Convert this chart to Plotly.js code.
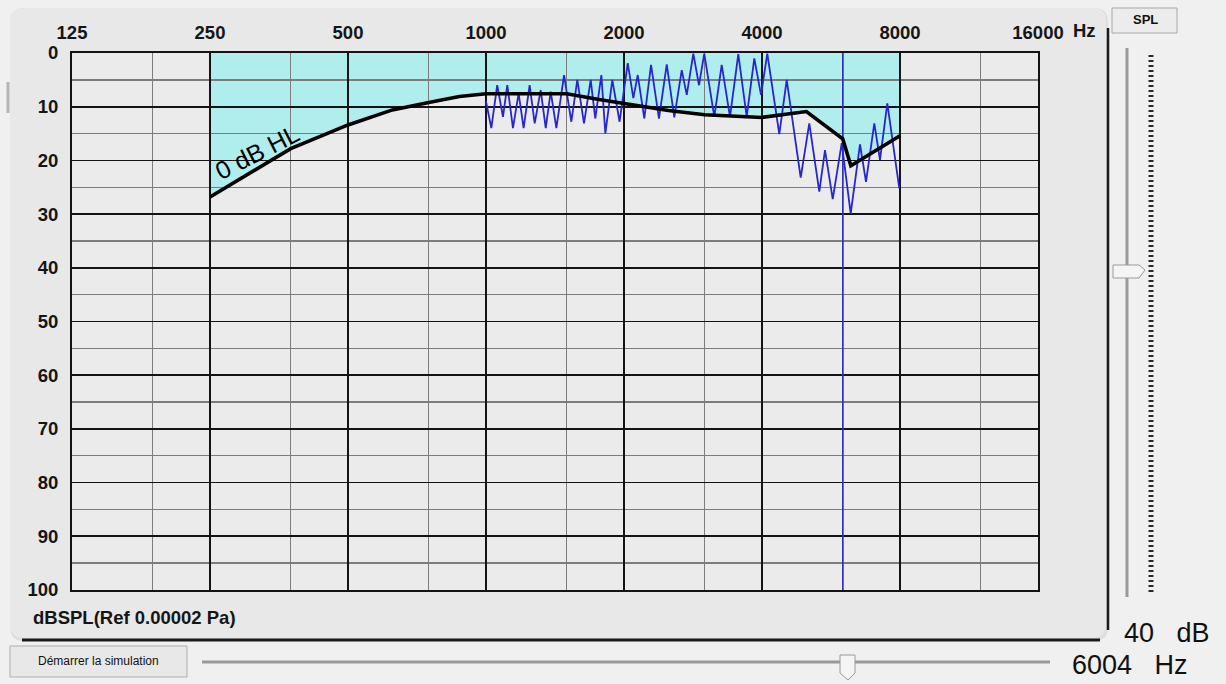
<!DOCTYPE html>
<html><head><meta charset="utf-8">
<script src="https://cdn.plot.ly/plotly-3.0.1.min.js"></script>
<style>html,body{margin:0;padding:0;background:#f0f0f0;overflow:hidden}#chart{width:1226px;height:684px}</style>
</head><body><div id="chart"></div>
<script>
// ---- data ----
const freqTicks = [125, 250, 500, 1000, 2000, 4000, 8000, 16000];
const freqTickText = ['125', '250', '500', '1000', '2000', '4000', '8000', '16000'];
const freqMinor = [187.5, 375, 750, 1500, 3000, 6000, 12000];
const dbTicks = [0, 10, 20, 30, 40, 50, 60, 70, 80, 90, 100];
const dbMinor = [5, 15, 25, 35, 45, 55, 65, 75, 85, 95];

// 0 dB HL threshold curve (dB SPL)
const hlFreq = [250, 300, 375, 500, 625, 750, 875, 1000, 1500, 1750, 2000, 2500, 3000, 4000, 5000, 6000, 6250, 8000];
const hlDb = [26.8, 22.8, 17.8, 13.4, 10.6, 9.2, 8.1, 7.6, 7.6, 8.6, 9.4, 10.7, 11.5, 12, 10.9, 16, 21, 15.4];

// upper edge of the shaded zone
const zoneFreq = [250, 8000];
const zoneDb = [0, 0];

// blue zigzag signal
const zzFreq = [1000,1027,1058,1089,1113,1145,1178,1208,1245,1277,1316,1350,1384,1424,1480,1535,1582,1636,1692,1731,
  1785,1821,1886,1956,2038,2096,2143,2215,2291,2384,2479,2575,2673,2741,2833,2915,2993,3148,3267,3406,
  3551,3704,3848,3980,4108,4363,4529,4858,5072,5334,5489,5706,5970,6245,6544,6744,7031,7235,7506,7971];
const zzDb = [9,14,6,11.9,6,14,7.5,14,6,13.1,6.9,14,7.2,14,4.1,12.8,5,13.1,5,12.2,
  4.1,15,5,12.8,1.9,8.4,4.1,12.2,2.2,12.2,2.1,12,3.2,7.8,0.1,6,0.1,11.9,2.2,11.9,
  0.2,11.9,1,7.8,0.1,15.1,5,23.2,13.1,25.8,18.1,27.2,16.8,29.9,17,24,13.1,19.9,9.4,25.2];

// cursor
const cursorFreq = 6004;
const cursorLevel = 40;
const cursorDbSpan = [0, 100];

// ---- layout helpers (pixel -> paper) ----
const L = 72, R = 1038, T = 53, B = 590;
const px = x => (x - L) / (R - L);
const py = y => (B - y) / (B - T);

function rrect(x0, y0, x1, y1, r) {
  return 'M' + px(x0 + r) + ',' + py(y0) +
    ' L' + px(x1 - r) + ',' + py(y0) +
    ' Q' + px(x1) + ',' + py(y0) + ' ' + px(x1) + ',' + py(y0 + r) +
    ' L' + px(x1) + ',' + py(y1 - r) +
    ' Q' + px(x1) + ',' + py(y1) + ' ' + px(x1 - r) + ',' + py(y1) +
    ' L' + px(x0 + r) + ',' + py(y1) +
    ' Q' + px(x0) + ',' + py(y1) + ' ' + px(x0) + ',' + py(y1 - r) +
    ' L' + px(x0) + ',' + py(y0 + r) +
    ' Q' + px(x0) + ',' + py(y0) + ' ' + px(x0 + r) + ',' + py(y0) + ' Z';
}
function poly(pts) {
  return 'M' + pts.map(p => px(p[0]) + ',' + py(p[1])).join(' L') + ' Z';
}
function pline(x0, y0, x1, y1, color, w, dash) {
  return {type: 'line', xref: 'paper', yref: 'paper', x0: px(x0), y0: py(y0), x1: px(x1), y1: py(y1),
    line: {color: color, width: w, dash: dash || 'solid'}, layer: 'below'};
}

const traces = [
  {x: zoneFreq, y: zoneDb, xaxis: 'x', yaxis: 'y', mode: 'lines', line: {width: 0, color: 'rgba(0,0,0,0)'}, hoverinfo: 'skip'},
  {x: hlFreq, y: hlDb, xaxis: 'x', yaxis: 'y', mode: 'lines', line: {width: 0, color: 'rgba(0,0,0,0)'},
   fill: 'tonexty', fillcolor: '#b0eeee', hoverinfo: 'skip'},
  {x: [cursorFreq, cursorFreq], y: cursorDbSpan, xaxis: 'x2', yaxis: 'y2', mode: 'lines', line: {color: '#3030c0', width: 1.7}},
  {x: zzFreq, y: zzDb, xaxis: 'x2', yaxis: 'y2', mode: 'lines', line: {color: '#2626d0', width: 1.8}},
  {x: hlFreq, y: hlDb, xaxis: 'x2', yaxis: 'y2', mode: 'lines', line: {color: '#000', width: 3.6}}
];

const xr = [Math.log10(freqTicks[0]), Math.log10(freqTicks[freqTicks.length - 1])];
const tickFont = {family: 'Liberation Sans, Arial, sans-serif', size: 18.5, color: '#151515', weight: 'bold'};

const shapes = [
  // panel
  {type: 'path', xref: 'paper', yref: 'paper', path: rrect(10, 8, 1108, 641, 14), fillcolor: '#dedede', line: {width: 0}, layer: 'below'},
  {type: 'path', xref: 'paper', yref: 'paper', path: rrect(10, 8, 1106, 638, 14), fillcolor: '#e8e8e8', line: {width: 0}, layer: 'below'},
  pline(22, 640, 1100, 640, '#1a1a1a', 3),
  pline(1108, 28, 1108, 630, '#1a1a1a', 2.5),
  pline(8, 82, 8, 113, '#b5b5b5', 3),
  // plot background
  {type: 'rect', xref: 'paper', yref: 'paper', x0: 0, y0: 0, x1: 1, y1: 1, fillcolor: '#ebebeb', line: {width: 0}, layer: 'below'},
  // SPL button
  {type: 'rect', xref: 'paper', yref: 'paper', x0: px(1112), y0: py(8), x1: px(1177), y1: py(33), fillcolor: '#ececec', line: {color: '#a8a8a8', width: 1}, layer: 'below'},
  // vertical slider
  pline(1127, 48, 1127, 597, '#9a9a9a', 3),
  pline(1151, 55, 1151, 593, '#2a2a2a', 5, '2px,3px'),
  {type: 'path', xref: 'paper', yref: 'paper', path: poly([[1113, 265], [1139, 265], [1145, 270], [1139, 278], [1113, 278]]), fillcolor: '#f5f5f5', line: {color: '#9a9a9a', width: 1}, layer: 'below'},
  // start button
  {type: 'rect', xref: 'paper', yref: 'paper', x0: px(10), y0: py(646), x1: px(187), y1: py(677), fillcolor: '#e8e8e8', line: {color: '#adadad', width: 1}, layer: 'below'},
  // horizontal slider
  pline(202, 662, 1050, 662, '#9a9a9a', 3),
  {type: 'path', xref: 'paper', yref: 'paper', path: poly([[840, 655], [855, 655], [855, 673], [848, 680], [840, 673]]), fillcolor: '#f5f5f5', line: {color: '#9a9a9a', width: 1}, layer: 'below'}
];

const annotations = [
  {xref: 'paper', yref: 'paper', x: px(1071), y: py(31), xanchor: 'left', yanchor: 'middle', text: 'Hz', showarrow: false, font: tickFont},
  {xref: 'paper', yref: 'paper', x: px(31), y: py(617), xanchor: 'left', yanchor: 'middle', text: 'dBSPL(Ref 0.00002 Pa)', showarrow: false, font: tickFont},
  {xref: 'paper', yref: 'paper', x: px(257), y: py(152), xanchor: 'center', yanchor: 'middle', text: '0 dB HL', textangle: -27, showarrow: false,
   font: {family: 'Liberation Sans, Arial, sans-serif', size: 25, color: '#000'}},
  {xref: 'paper', yref: 'paper', x: px(1145), y: py(20), xanchor: 'center', yanchor: 'middle', text: 'SPL', showarrow: false,
   font: {family: 'Liberation Sans, Arial, sans-serif', size: 13, color: '#111', weight: 'bold'}},
  {xref: 'paper', yref: 'paper', x: px(98), y: py(661), xanchor: 'center', yanchor: 'middle', text: 'Démarrer la simulation', showarrow: false,
   font: {family: 'Liberation Sans, Arial, sans-serif', size: 12, color: '#111'}},
  {xref: 'paper', yref: 'paper', x: px(1122), y: py(633), xanchor: 'left', yanchor: 'middle', text: cursorLevel + '&nbsp;&nbsp;&nbsp;dB', showarrow: false,
   font: {family: 'Liberation Sans, Arial, sans-serif', size: 27, color: '#111'}},
  {xref: 'paper', yref: 'paper', x: px(1070), y: py(665), xanchor: 'left', yanchor: 'middle', text: cursorFreq + '&nbsp;&nbsp;&nbsp;Hz', showarrow: false,
   font: {family: 'Liberation Sans, Arial, sans-serif', size: 27, color: '#111'}}
];

const layout = {
  width: 1226, height: 684,
  margin: {l: L, r: 1226 - R, t: T, b: 684 - B, pad: 0},
  paper_bgcolor: '#f0f0f0',
  plot_bgcolor: 'rgba(0,0,0,0)',
  showlegend: false,
  xaxis: {type: 'log', range: xr, domain: [0, 1], anchor: 'y', showgrid: false, zeroline: false, showticklabels: false, ticks: '', showline: false},
  yaxis: {range: [100, 0], domain: [0, 1], anchor: 'x', showgrid: false, zeroline: false, showticklabels: false, ticks: '', showline: false},
  xaxis2: {type: 'log', range: xr, domain: [0, 1], anchor: 'y2', side: 'top',
    tickmode: 'array', tickvals: freqTicks, ticktext: freqTickText, ticks: '', ticklabelstandoff: 5,
    showgrid: true, gridcolor: '#141414', gridwidth: 1.7,
    minor: {tickmode: 'array', tickvals: freqMinor, showgrid: true, gridcolor: '#7c7c7c', gridwidth: 1.4, ticks: ''},
    showline: true, mirror: true, linecolor: '#141414', linewidth: 2, zeroline: false, tickfont: tickFont},
  yaxis2: {range: [100, 0], domain: [0, 1], anchor: 'x2',
    tickmode: 'array', tickvals: dbTicks, ticks: '', ticklabelstandoff: 8,
    showgrid: true, gridcolor: '#141414', gridwidth: 1.7,
    minor: {tickmode: 'array', tickvals: dbMinor, showgrid: true, gridcolor: '#7c7c7c', gridwidth: 1.4, ticks: ''},
    showline: true, mirror: true, linecolor: '#141414', linewidth: 2, zeroline: false, tickfont: tickFont},
  shapes: shapes,
  annotations: annotations
};

Plotly.newPlot('chart', traces, layout, {staticPlot: true, displayModeBar: false});
</script>
</body></html>
